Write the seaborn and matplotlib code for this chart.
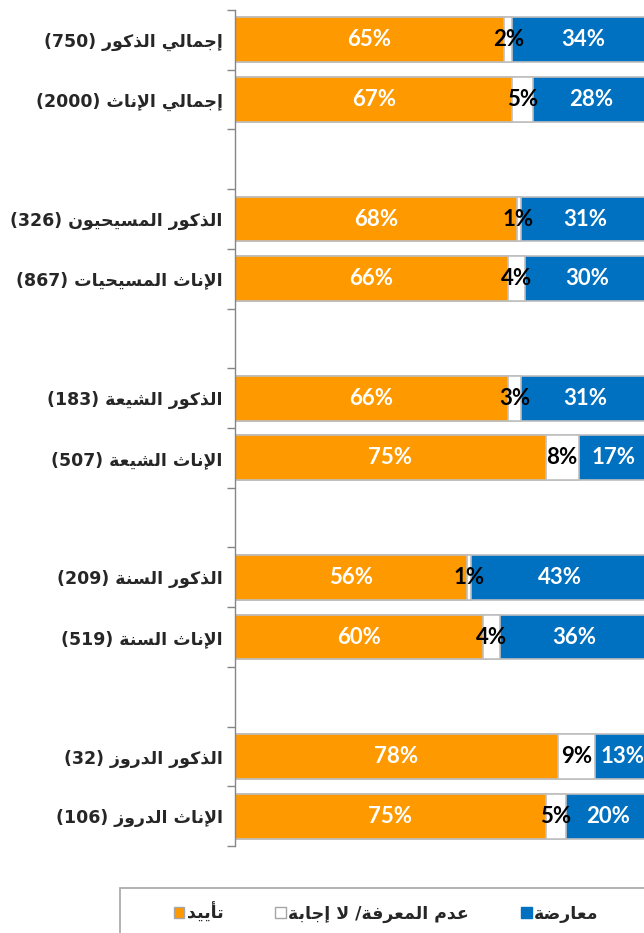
import matplotlib
matplotlib.use("Agg")
import matplotlib.pyplot as plt
from matplotlib.patches import Patch, Rectangle
import seaborn as sns
import numpy as np
import pandas as pd

# data (percent)
groups = [
    "إجمالي الذكور",
    "إجمالي الإناث",
    "الذكور المسيحيون",
    "الإناث المسيحيات",
    "الذكور الشيعة",
    "الإناث الشيعة",
    "الذكور السنة",
    "الإناث السنة",
    "الذكور الدروز",
    "الإناث الدروز",
]
counts = [750, 2000, 326, 867, 183, 507, 209, 519, 32, 106]
slots = [0, 1, 3, 4, 6, 7, 9, 10, 12, 13]
support = [65, 67, 68, 66, 66, 75, 56, 60, 78, 75]
dont_know = [2, 5, 1, 4, 3, 8, 1, 4, 9, 5]
oppose = [34, 28, 31, 30, 31, 17, 43, 36, 13, 20]
legend_labels = ["تأييد", "عدم المعرفة/ لا إجابة", "معارضة"]

orange = "#FF9900"
blue = "#0070C0"
edge = "#BFBFBF"
axis_grey = "#868686"


# matplotlib has no arabic shaping, so map letters to presentation forms
def _four(b):
    return (b, b + 1, b + 2, b + 3)


def _two(b):
    return (b, b + 1, None, None)


FORMS = {
    "ء": (0xFE80, None, None, None),
    "آ": _two(0xFE81), "أ": _two(0xFE83), "ؤ": _two(0xFE85), "إ": _two(0xFE87),
    "ئ": _four(0xFE89), "ا": _two(0xFE8D), "ب": _four(0xFE8F), "ة": _two(0xFE93),
    "ت": _four(0xFE95), "ث": _four(0xFE99), "ج": _four(0xFE9D), "ح": _four(0xFEA1),
    "خ": _four(0xFEA5), "د": _two(0xFEA9), "ذ": _two(0xFEAB), "ر": _two(0xFEAD),
    "ز": _two(0xFEAF), "س": _four(0xFEB1), "ش": _four(0xFEB5), "ص": _four(0xFEB9),
    "ض": _four(0xFEBD), "ط": _four(0xFEC1), "ظ": _four(0xFEC5), "ع": _four(0xFEC9),
    "غ": _four(0xFECD), "ف": _four(0xFED1), "ق": _four(0xFED5), "ك": _four(0xFED9),
    "ل": _four(0xFEDD), "م": _four(0xFEE1), "ن": _four(0xFEE5), "ه": _four(0xFEE9),
    "و": _two(0xFEED), "ى": _two(0xFEEF), "ي": _four(0xFEF1),
}
LAM_ALEF = {"آ": 0xFEF5, "أ": 0xFEF7, "إ": 0xFEF9, "ا": 0xFEFB}


def shape(text):
    toks = []
    i = 0
    while i < len(text):
        c = text[i]
        if c == "ل" and i + 1 < len(text) and text[i + 1] in LAM_ALEF:
            toks.append(("LA", LAM_ALEF[text[i + 1]]))
            i += 2
        else:
            toks.append((c, None))
            i += 1
    out = []
    for k, (c, lig) in enumerate(toks):
        prev = toks[k - 1][0] if k > 0 else None
        nxt = toks[k + 1][0] if k + 1 < len(toks) else None
        joins_prev = prev in FORMS and FORMS[prev][2] is not None
        if lig is not None:
            out.append(chr(lig + 1 if joins_prev else lig))
            continue
        if c not in FORMS:
            out.append(c)
            continue
        f = FORMS[c]
        joins_next = f[2] is not None and (nxt == "LA" or (nxt in FORMS and nxt != "ء"))
        if joins_prev and f[1] is None:
            joins_prev = False
        if joins_prev and joins_next:
            g = f[3]
        elif joins_prev:
            g = f[1]
        elif joins_next:
            g = f[2]
        else:
            g = f[0]
        out.append(chr(g))
    # right-to-left -> visual order
    return "".join(out)[::-1]


df = pd.DataFrame({
    "slot": slots,
    "support": np.array(support) / 100,
    "dont_know": np.array(dont_know) / 100,
    "oppose": np.array(oppose) / 100,
})
df["dk_end"] = df["support"] + df["dont_know"]
df["total"] = df["dk_end"] + df["oppose"]

sns.set_style("white")
plt.rcParams["font.family"] = ["DejaVu Sans"]

fig = plt.figure(figsize=(6.44, 9.33), dpi=100)
ax = fig.add_axes([235 / 644, 1 - 846 / 933, 414 / 644, 836 / 933])

# stacked: draw the cumulative ends back to front
for col, color in [("total", blue), ("dk_end", "white"), ("support", orange)]:
    sns.barplot(
        data=df, x=col, y="slot", orient="h", native_scale=True,
        color=color, saturation=1, width=0.75, edgecolor=edge,
        linewidth=1.2, errorbar=None, ax=ax,
    )

pct_font = dict(family=["Lato", "DejaVu Sans"], weight="bold", fontsize=16)
for _, r in df.iterrows():
    y = r["slot"]
    ax.text(r["support"] / 2, y, f"{round(r['support'] * 100)}%",
            ha="center", va="center", color="white", **pct_font)
    ax.text(r["support"] + r["dont_know"] / 2, y, f"{round(r['dont_know'] * 100)}%",
            ha="center", va="center", color="black", **pct_font)
    ax.text(r["dk_end"] + r["oppose"] / 2, y, f"{round(r['oppose'] * 100)}%",
            ha="center", va="center", color="white", **pct_font)

ax.set_xlim(0, 1)
ax.set_ylim(13.5, -0.5)
ax.set_xticks([])
ax.set_xlabel("")
ax.set_ylabel("")
ax.set_yticks(slots)
ax.set_yticklabels([f"({n}) " + shape(g) for g, n in zip(groups, counts)],
                   fontsize=12.5, fontweight="bold")
ax.set_yticks(np.arange(-0.5, 14, 1), minor=True)
ax.tick_params(axis="y", which="major", length=0, pad=9)
ax.tick_params(axis="y", which="minor", length=6, width=1, color=axis_grey, left=True)
for s in ["top", "right", "bottom"]:
    ax.spines[s].set_visible(False)
ax.spines["left"].set_color(axis_grey)
ax.spines["left"].set_linewidth(1)

# legend with its own frame running off the bottom/right edges
handles = [
    Patch(facecolor=orange, edgecolor="#A6A6A6"),
    Patch(facecolor="white", edgecolor="#A6A6A6"),
    Patch(facecolor=blue, edgecolor=blue),
]
fig.legend(
    handles, [shape(t) for t in legend_labels],
    loc="center left", bbox_to_anchor=(158 / 644, 1 - 913 / 933),
    ncol=3, frameon=False, handlelength=0.6, handleheight=0.6,
    handletextpad=0.15, columnspacing=3.0,
    prop=dict(family="DejaVu Sans", weight="bold", size=12.5),
)
fig.add_artist(Rectangle((120 / 644, -0.02), 1, 0.02 + 1 - 888 / 933,
                         transform=fig.transFigure, fill=False,
                         edgecolor="#A6A6A6", linewidth=1.2))

fig.savefig("out.png", dpi=100)
